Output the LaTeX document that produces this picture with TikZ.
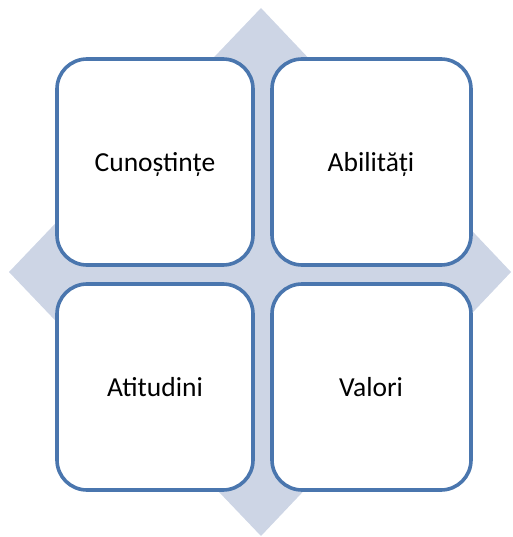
\documentclass[tikz,border=0pt]{standalone}
\usepackage{fontspec}
\setmainfont{Carlito}
\definecolor{diam}{HTML}{CDD5E5}
\definecolor{edge}{HTML}{4A76AE}
\begin{document}
\begin{tikzpicture}[x=1pt,y=-1pt,
  card/.style={draw=edge,line width=3.6pt,fill=white,rounded corners=30pt},
  lbl/.style={font=\fontsize{27.5}{32}\selectfont,text=black,anchor=base,inner sep=0pt}]
\useasboundingbox (0,0) rectangle (512,537);
\fill[diam] (261,8) -- (511,272) -- (261,536) -- (9,272) -- cycle;
\draw[card] (57,59) rectangle (253,265);
\draw[card] (272,59) rectangle (471,265);
\draw[card] (57,284) rectangle (253,490);
\draw[card] (272,284) rectangle (471,490);
\node[lbl] (c) at (155,172) {Cunoștințe};
\node[lbl] (a) at (371,172) {Abilități};
\node[lbl] (t) at (155,396) {Atitudini};
\node[lbl] (v) at (371,396) {Valori};
\end{tikzpicture}
\end{document}
